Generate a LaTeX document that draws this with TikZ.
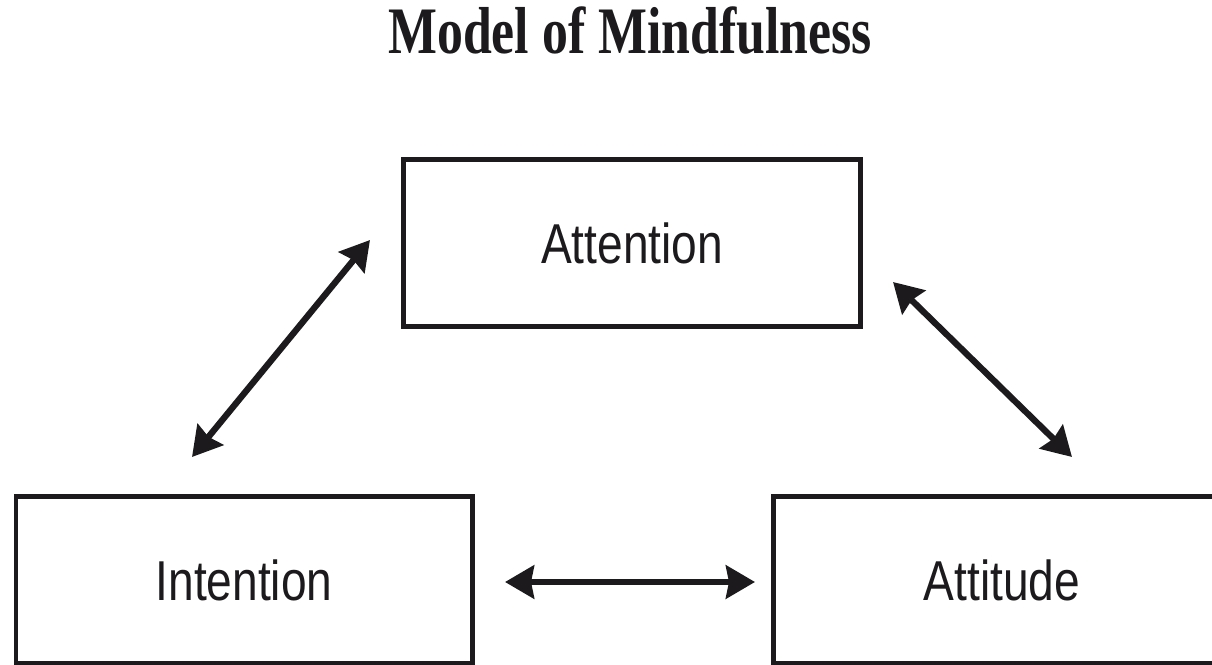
\documentclass[tikz,border=0pt]{standalone}
\usepackage{fontspec}
\usetikzlibrary{arrows.meta,positioning}
\newfontfamily\boxfont[FakeStretch=0.82]{Liberation Sans}
\newfontfamily\titlefont[FakeStretch=0.78]{Liberation Serif}
\definecolor{ink}{HTML}{1C1A1D}

\tikzstyle{box} = [rectangle, minimum width=9.14cm, minimum height=3.34cm, text centered, draw=ink, line width=2.4pt, font=\boxfont\fontsize{32}{36}\selectfont, text=ink]
\tikzstyle{arrow} = [line width=3.6pt, draw=ink, {Stealth[length=0.58cm, width=0.66cm, inset=0.06cm]}-{Stealth[length=0.58cm, width=0.66cm, inset=0.06cm]}]

\begin{document}
\begin{tikzpicture}[x=0.02cm, y=-0.02cm]
  \clip (0,0) rectangle (1212,665);

  \node (Title) at (630,31) [text=ink, font=\titlefont\bfseries\fontsize{37.8}{40}\selectfont] {Model of Mindfulness};
  \node (Attention) at (632,243) [box] {Attention};
  \node (Intention) [box, below of=Attention, xshift=-7.76cm, yshift=-5.74cm] {Intention};
  \node (Attitude) [box, right of=Intention, xshift=14.16cm] {Attitude};

  \coordinate (IA lo) at (192,457);
  \coordinate (IA hi) at (370,240);
  \coordinate (AT hi) at (893,282);
  \coordinate (AT lo) at (1072,457);
  \coordinate (IT l) at (505,582);
  \coordinate (IT r) at (755,582);

  \draw [arrow] (IA lo) -- (IA hi);
  \draw [arrow] (AT hi) -- (AT lo);
  \draw [arrow] (IT l) -- (IT r);
\end{tikzpicture}
\end{document}
